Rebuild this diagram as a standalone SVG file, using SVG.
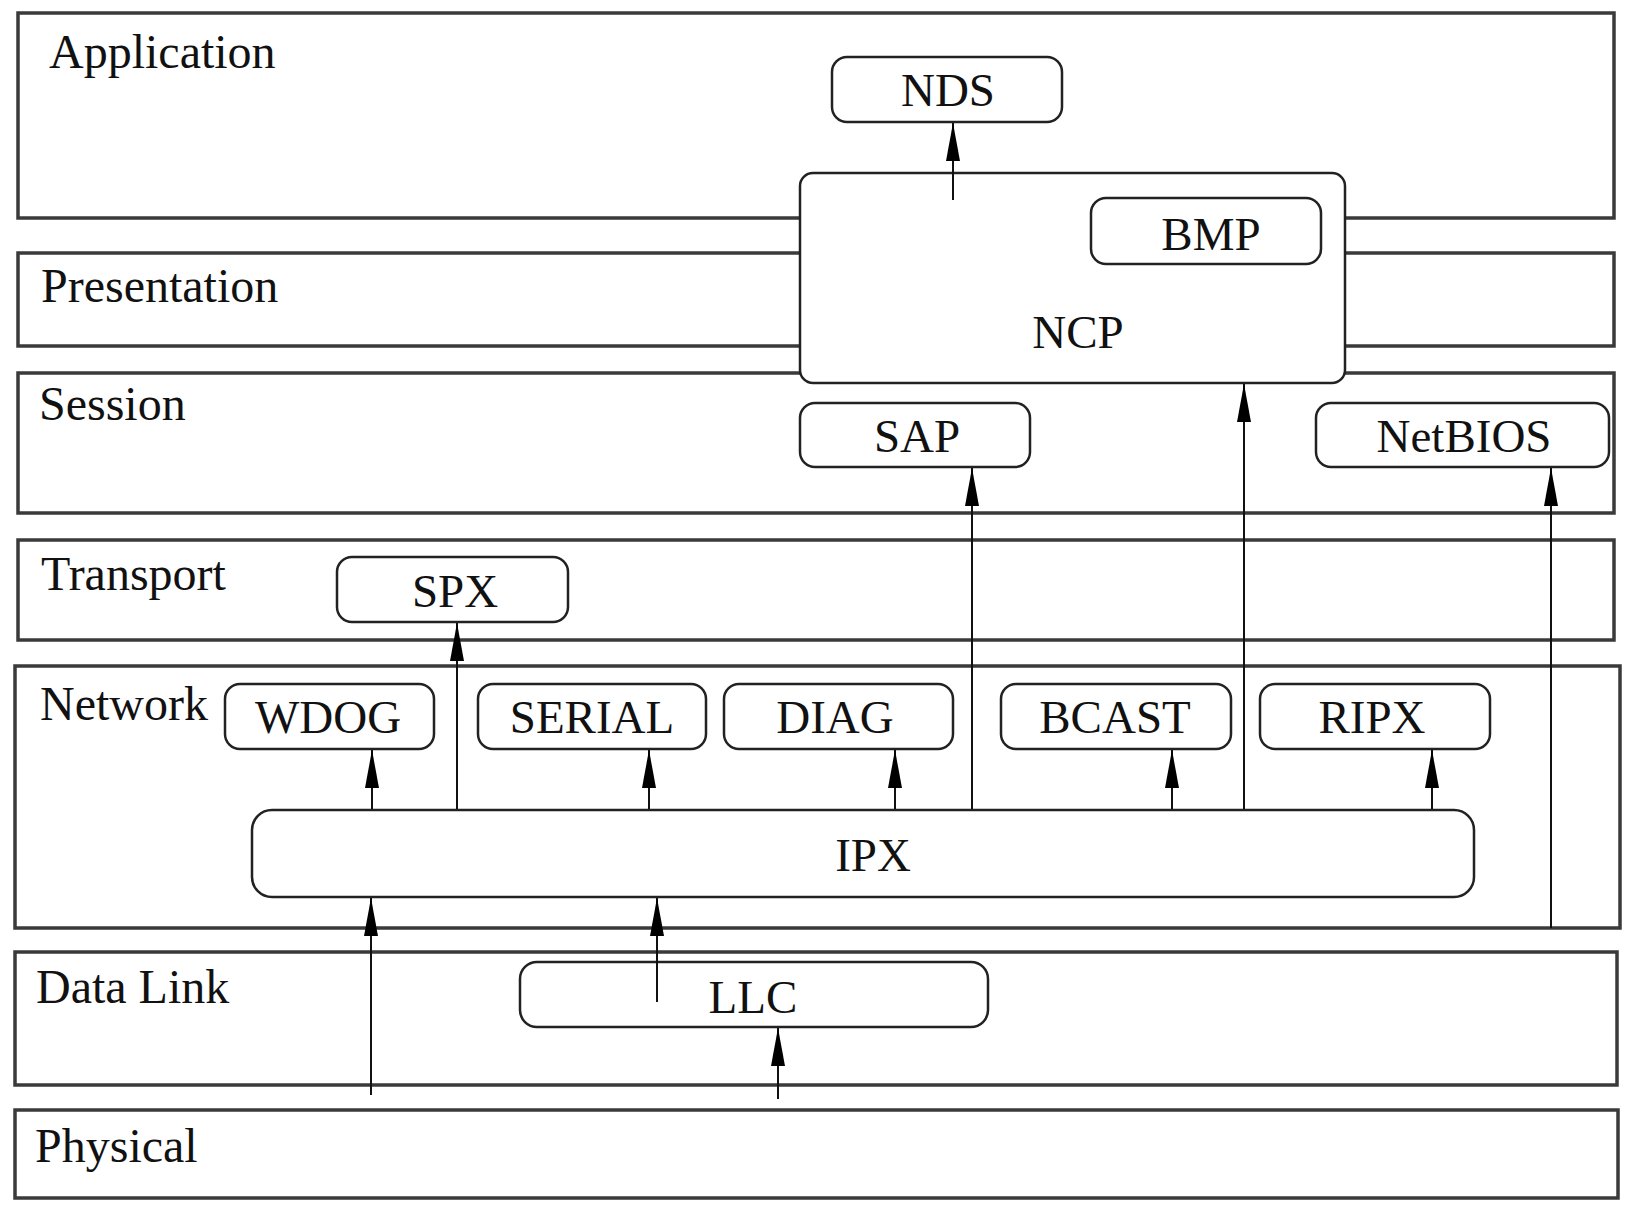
<svg xmlns="http://www.w3.org/2000/svg" width="1629" height="1209" viewBox="0 0 1629 1209">
<defs>
<style>
.layer{fill:#fff;stroke:#3a3a3a;stroke-width:3.5}
.node{fill:#fff;stroke:#222;stroke-width:2.5}
.lbl{font-family:"Liberation Serif","Times New Roman",serif;font-size:48px;fill:#111}
.nl{font-family:"Liberation Serif","Times New Roman",serif;font-size:47px;fill:#111;text-anchor:middle}
.conn{stroke:#111;stroke-width:2;fill:none;marker-end:url(#ah)}
</style>
<marker id="ah" markerUnits="userSpaceOnUse" markerWidth="40" markerHeight="16" refX="38" refY="7" orient="auto">
<path d="M0,0 L38,7 L0,14 z" fill="#000"/>
</marker>
</defs>
<rect width="1629" height="1209" fill="#fff"/>
<g id="layers">
<g id="layer-application"><rect class="layer" x="18" y="13" width="1596" height="205"/><text class="lbl" x="49" y="68">Application</text></g>
<g id="layer-presentation"><rect class="layer" x="18" y="253" width="1596" height="93"/><text class="lbl" x="41" y="302">Presentation</text></g>
<g id="layer-session"><rect class="layer" x="18" y="373" width="1596" height="140"/><text class="lbl" x="39" y="420">Session</text></g>
<g id="layer-transport"><rect class="layer" x="18" y="540" width="1596" height="100"/><text class="lbl" x="41" y="590">Transport</text></g>
<g id="layer-network"><rect class="layer" x="15" y="666" width="1605" height="262"/><text class="lbl" x="40" y="720">Network</text></g>
<g id="layer-datalink"><rect class="layer" x="15" y="952" width="1602" height="133"/><text class="lbl" x="36" y="1003">Data Link</text></g>
<g id="layer-physical"><rect class="layer" x="15" y="1110" width="1603" height="88"/><text class="lbl" x="35" y="1162">Physical</text></g>
</g>
<g id="node-ncp"><rect class="node" x="800" y="173" width="545" height="210" rx="13"/><text class="nl" x="1078" y="348">NCP</text></g>
<g id="node-nds"><rect class="node" x="832" y="57" width="230" height="65" rx="15"/><text class="nl" x="948" y="106">NDS</text></g>
<g id="node-bmp"><rect class="node" x="1091" y="198" width="230" height="66" rx="15"/><text class="nl" x="1211" y="250">BMP</text></g>
<g id="node-sap"><rect class="node" x="800" y="403" width="230" height="64" rx="15"/><text class="nl" x="917" y="452">SAP</text></g>
<g id="node-netbios"><rect class="node" x="1316" y="403" width="293" height="64" rx="15"/><text class="nl" x="1464" y="452">NetBIOS</text></g>
<g id="node-spx"><rect class="node" x="337" y="557" width="231" height="65" rx="15"/><text class="nl" x="455" y="607">SPX</text></g>
<g id="node-wdog"><rect class="node" x="225" y="684" width="209" height="65" rx="15"/><text class="nl" x="328" y="733">WDOG</text></g>
<g id="node-serial"><rect class="node" x="478" y="684" width="228" height="65" rx="15"/><text class="nl" x="592" y="733">SERIAL</text></g>
<g id="node-diag"><rect class="node" x="724" y="684" width="229" height="65" rx="15"/><text class="nl" x="835" y="733">DIAG</text></g>
<g id="node-bcast"><rect class="node" x="1001" y="684" width="230" height="65" rx="15"/><text class="nl" x="1115" y="733">BCAST</text></g>
<g id="node-ripx"><rect class="node" x="1260" y="684" width="230" height="65" rx="15"/><text class="nl" x="1372" y="733">RIPX</text></g>
<g id="node-ipx"><rect class="node" x="252" y="810" width="1222" height="87" rx="20"/><text class="nl" x="873" y="871">IPX</text></g>
<g id="node-llc"><rect class="node" x="520" y="962" width="468" height="65" rx="17"/><text class="nl" x="753" y="1013">LLC</text></g>
<g id="connectors">
<line class="conn" x1="953" y1="200" x2="953" y2="123"/>
<line class="conn" x1="1244" y1="809" x2="1244" y2="384"/>
<line class="conn" x1="972" y1="809" x2="972" y2="468"/>
<line class="conn" x1="1551" y1="928" x2="1551" y2="468"/>
<line class="conn" x1="457" y1="809" x2="457" y2="623"/>
<line class="conn" x1="372" y1="809" x2="372" y2="750"/>
<line class="conn" x1="649" y1="809" x2="649" y2="750"/>
<line class="conn" x1="895" y1="809" x2="895" y2="750"/>
<line class="conn" x1="1172" y1="809" x2="1172" y2="750"/>
<line class="conn" x1="1432" y1="809" x2="1432" y2="750"/>
<line class="conn" x1="371" y1="1095" x2="371" y2="898"/>
<line class="conn" x1="657" y1="1002" x2="657" y2="898"/>
<line class="conn" x1="778" y1="1099" x2="778" y2="1028"/>
</g>
</svg>
